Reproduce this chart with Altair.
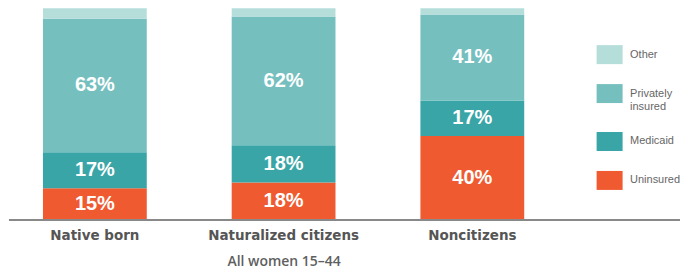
import altair as alt
import pandas as pd

groups = ["Native born", "Naturalized citizens", "Noncitizens"]
categories = ["Uninsured", "Medicaid", "Privately insured", "Other"]
uninsured = [15, 18, 40]
medicaid = [17, 18, 17]
private = [63, 62, 41]
other = [5, 4, 3]
colors = ["#ef5a30", "#3aa5a6", "#76bfbf", "#b5dedb"]

series = [uninsured, medicaid, private, other]
rows = []
for gi, g in enumerate(groups):
    total = sum(s[gi] for s in series)
    cum = 0
    for ci, c in enumerate(categories):
        v = series[ci][gi]
        rows.append({
            "group": g, "cat": c, "order": ci, "value": v,
            "y0": cum / total, "y1": (cum + v) / total,
            "mid": (cum + v / 2) / total,
            "label": f"{v}%",
        })
        cum += v
df = pd.DataFrame(rows)

W, H = 672, 212
xscale = alt.Scale(domain=groups, paddingInner=0.45, paddingOuter=0.18, range=[0, 550])
yscale = alt.Scale(domain=[0, 1])
legend_order = ["Other", "Privately insured", "Medicaid", "Uninsured"]
legend_colors = ["#b5dedb", "#76bfbf", "#3aa5a6", "#ef5a30"]

bars = alt.Chart(df).mark_bar().encode(
    x=alt.X("group:N", scale=xscale, sort=groups,
            axis=alt.Axis(title="All women 15–44", labelAngle=0, ticks=False, domain=False,
                          labelFontWeight="bold", labelFontSize=13.5, labelColor="#555555",
                          labelPadding=9, titleFontSize=14, titleFontWeight=600,
                          titleColor="#5f5f5f", titlePadding=12,
                          labelFont="DejaVu Sans", titleFont="Open Sans")),
    y=alt.Y("y0:Q", scale=yscale, axis=None),
    y2="y1:Q",
    color=alt.Color("cat:N", scale=alt.Scale(domain=legend_order, range=legend_colors),
                    legend=alt.Legend(title=None, orient="none", legendX=592, legendY=37,
                                      symbolType="M-1.37,-1H1.37V1H-1.37Z", symbolSize=361,
                                      symbolStrokeWidth=0, symbolOpacity=1,
                                      labelFontSize=11, labelColor="#666666",
                                      labelFont="Liberation Sans", labelOffset=11,
                                      rowPadding=20,
                                      labelExpr="datum.label == 'Privately insured' ? ['Privately', 'insured'] : datum.label")),
)

text = alt.Chart(df).transform_filter(
    alt.datum.cat != "Other"
).mark_text(color="white", fontSize=20, fontWeight="bold",
            font="Liberation Sans", baseline="middle").encode(
    x=alt.X("group:N", scale=xscale, sort=groups),
    y=alt.Y("mid:Q", scale=yscale, axis=None),
    text="label:N",
)

baseline = alt.Chart(df).mark_rule(color="#8a8a8a", strokeWidth=1).encode(
    x=alt.value(0), x2=alt.value(W), y=alt.value(H)
)

chart = alt.layer(bars, text, baseline).properties(
    width=W, height=H, padding={"left": 0, "top": 0, "right": 0, "bottom": 0}
).configure_view(stroke=None).configure_axis(grid=False)

chart.save("out.html", embed_options={"renderer": "svg", "actions": False})
